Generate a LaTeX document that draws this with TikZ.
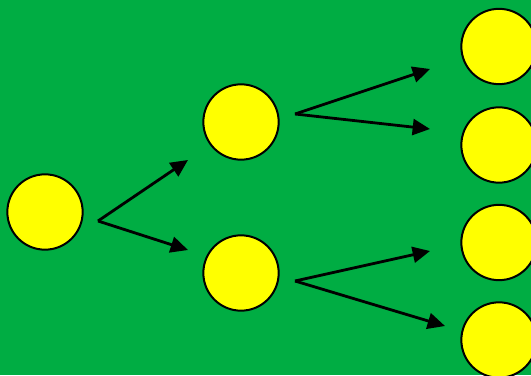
\documentclass[tikz,border=0pt]{standalone}
\usetikzlibrary{arrows.meta}
\definecolor{bggreen}{RGB}{0,173,67}
\definecolor{ballyellow}{RGB}{255,255,0}
\tikzset{
ball/.style={circle,draw=black,line width=1.5pt,fill=ballyellow,minimum size=56.5pt,inner sep=0pt},
branch/.style={line width=2.1pt,-{Triangle[length=13pt,width=12pt]}}
}
\begin{document}
\begin{tikzpicture}[x=0.75pt,y=0.75pt]
\useasboundingbox (0,0) rectangle (531,375);
\fill[bggreen] (0,0) rectangle (531,375);
\clip (0,0) rectangle (531,375);
% circles
\node[ball] (root) at (45,163) {};
\node[ball] (up) at (241,253) {};
\node[ball] (down) at (241,102) {};
\foreach \y [count=\i] in {328.5,230,132.5,35}
{
\node[ball] (leaf\i) at (499,\y) {};
}
% arrow ends
\coordinate (s0) at (98,154);
\coordinate (s1) at (295,261);
\coordinate (s2) at (295,94);
\coordinate (t1) at (188,215);
\coordinate (t2) at (188,125);
\coordinate (t3) at (430,306);
\coordinate (t4) at (430,246);
\coordinate (t5) at (430,124);
\coordinate (t6) at (445,49);
\draw[branch] (s0)--(t1);
\draw[branch] (s0)--(t2);
\draw[branch] (s1)--(t3);
\draw[branch] (s1)--(t4);
\draw[branch] (s2)--(t5);
\draw[branch] (s2)--(t6);
\end{tikzpicture}
\end{document}
